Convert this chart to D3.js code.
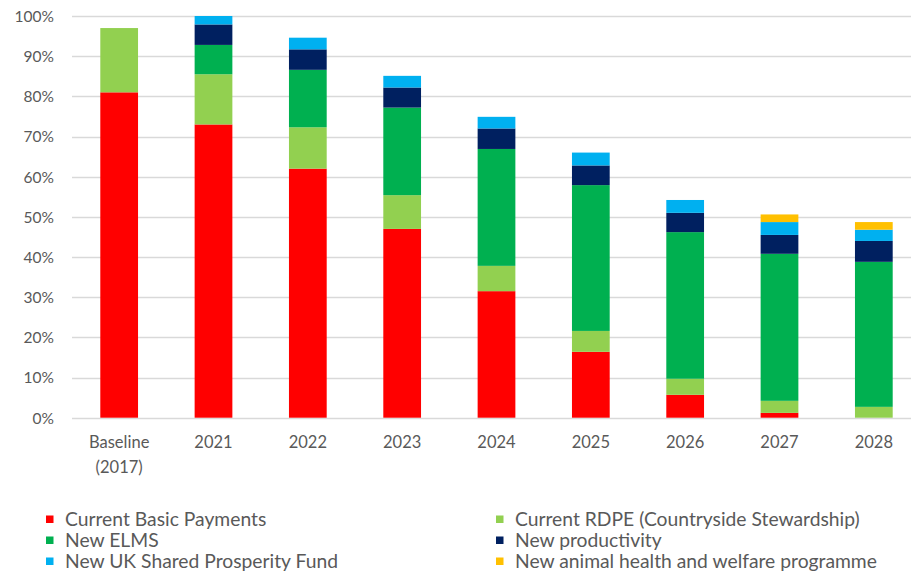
<!DOCTYPE html>
<html>
<head>
<meta charset="utf-8">
<script src="https://cdn.jsdelivr.net/npm/d3@7"></script>
<style>
  html, body { margin: 0; padding: 0; background: #fff; }
  svg { display: block; font-family: Lato, "Open Sans", sans-serif; }
</style>
</head>
<body>
<svg id="chart" width="911" height="577"></svg>
<script>
// Categories along the x axis (first label wraps onto two lines)
const categories = ["Baseline (2017)", "2021", "2022", "2023", "2024", "2025", "2026", "2027", "2028"];

// Share of baseline funding (%) by scheme, one value per category
const basicPayments  = [81, 73, 62, 47, 31.5, 16.4, 5.7, 1.2, 0];
const rdpe           = [16, 12.5, 10.3, 8.4, 6.3, 5.2, 4.0, 3.0, 2.7];
const elms           = [0, 7.3, 14.3, 21.8, 29.1, 36.3, 36.5, 36.6, 36.1];
const productivity   = [0, 5.1, 5.1, 5.0, 5.1, 4.9, 4.8, 4.7, 5.2];
const ukspf          = [0, 2.1, 2.9, 2.9, 2.9, 3.2, 3.2, 3.2, 2.8];
const animalHealth   = [0, 0, 0, 0, 0, 0, 0, 1.9, 1.9];

const seriesNames = [
  "Current Basic Payments",
  "Current RDPE (Countryside Stewardship)",
  "New ELMS",
  "New productivity",
  "New UK Shared Prosperity Fund",
  "New animal health and welfare programme"
];
const seriesValues = [basicPayments, rdpe, elms, productivity, ukspf, animalHealth];
const seriesColors = ["#ff0000", "#92d050", "#00b050", "#002060", "#00b0f0", "#ffc000"];

const yTicks = [0, 10, 20, 30, 40, 50, 60, 70, 80, 90, 100];

// Build rows for d3.stack
const keys = seriesNames;
const rows = categories.map((c, i) => {
  const r = { category: c };
  keys.forEach((k, j) => { r[k] = seriesValues[j][i]; });
  return r;
});
const stacked = d3.stack().keys(keys)(rows);

const svg = d3.select("#chart");
const textColor = "#595959";

const x = d3.scaleBand().domain(categories).range([72, 921]).paddingInner(0.6).paddingOuter(0.3);
const y = d3.scaleLinear().domain([0, 100]).range([417.7, 16]);

// Horizontal gridlines
svg.append("g")
  .selectAll("line")
  .data(yTicks)
  .join("line")
  .attr("x1", 72).attr("x2", 911)
  .attr("y1", d => Math.round(y(d)) + 0.5)
  .attr("y2", d => Math.round(y(d)) + 0.5)
  .attr("stroke", "#d9d9d9")
  .attr("stroke-width", 1.3);

// Y axis labels
const yAxis = d3.axisLeft(y).tickValues(yTicks).tickFormat(d => d + "%").tickSize(0).tickPadding(0);
const yg = svg.append("g").attr("transform", "translate(54,0)").call(yAxis);
yg.select(".domain").remove();
yg.selectAll("text")
  .attr("fill", textColor)
  .attr("font-size", 15.5)
  .attr("font-family", "Lato, 'Open Sans', sans-serif")
  .attr("dy", "0.35em");

// Stacked bars
svg.append("g")
  .selectAll("g")
  .data(stacked)
  .join("g")
  .attr("fill", (d, i) => seriesColors[i])
  .selectAll("rect")
  .data(d => d)
  .join("rect")
  .attr("x", d => x(d.data.category))
  .attr("width", x.bandwidth())
  .attr("y", d => y(d[1]))
  .attr("height", d => Math.max(0, y(d[0]) - y(d[1])));

// X axis labels
const xAxis = d3.axisBottom(x).tickSize(0).tickPadding(0);
const xg = svg.append("g").attr("transform", "translate(0,432)").call(xAxis);
xg.select(".domain").remove();
xg.selectAll("text").remove();
xg.selectAll(".tick").each(function(d) {
  const parts = d.startsWith("Baseline") ? ["Baseline", "(2017)"] : [d];
  const t = d3.select(this).append("text")
    .attr("fill", textColor)
    .attr("font-size", 16.5)
    .attr("font-family", "Lato, 'Open Sans', sans-serif")
    .attr("text-anchor", "middle");
  parts.forEach((p, i) => {
    t.append("tspan").attr("x", 0).attr("y", 16 + i * 24.5).text(p);
  });
});

// Legend: two columns, three rows
const legendCols = [46, 496];
const legendRows = [526, 547, 568];
const lg = svg.append("g");
seriesNames.forEach((name, i) => {
  const cx = legendCols[i % 2];
  const cy = legendRows[Math.floor(i / 2)];
  lg.append("rect")
    .attr("x", cx).attr("y", cy - 10.5)
    .attr("width", 7.5).attr("height", 7.5)
    .attr("fill", seriesColors[i]);
  lg.append("text")
    .attr("x", cx + 19).attr("y", cy)
    .attr("fill", textColor)
    .attr("font-size", 19.3)
    .text(name);
});
</script>
</body>
</html>
